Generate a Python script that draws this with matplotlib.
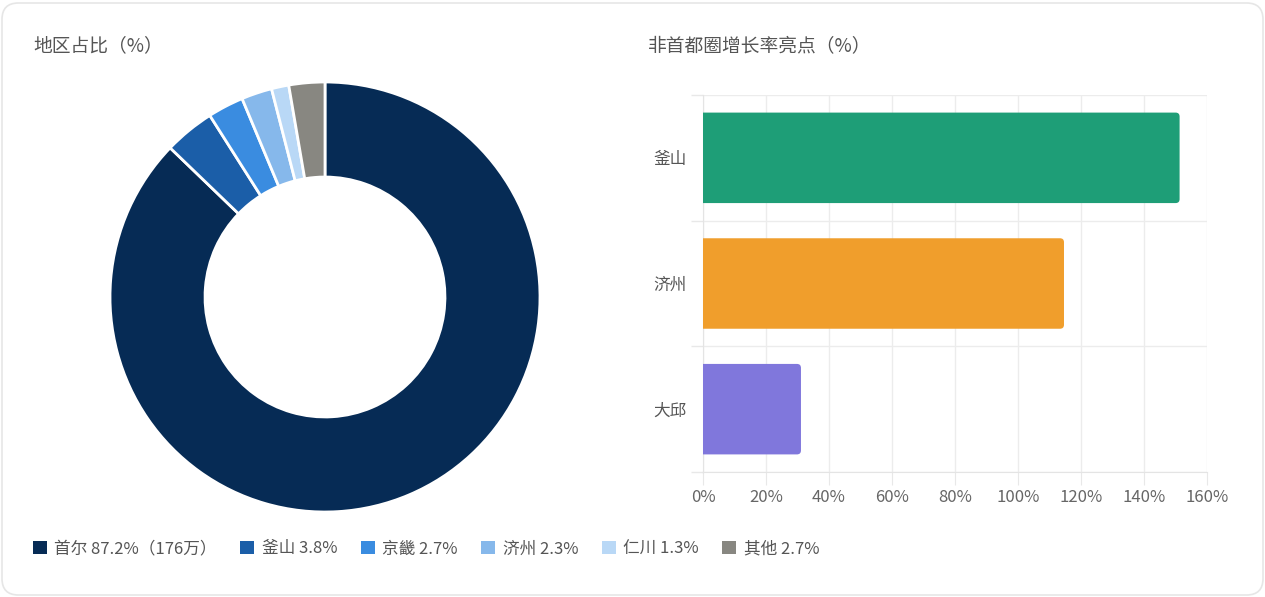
import matplotlib.pyplot as plt
from matplotlib.patches import FancyBboxPatch

plt.rcParams['font.family'] = ['Noto Sans CJK SC', 'DejaVu Sans']

# donut data
regions = ['首尔', '釜山', '京畿', '济州', '仁川', '其他']
shares = [87.2, 3.8, 2.7, 2.3, 1.3, 2.7]
legend_labels = ['首尔 87.2%（176万）', '釜山 3.8%', '京畿 2.7%', '济州 2.3%', '仁川 1.3%', '其他 2.7%']
donut_colors = ['#062b55', '#1b5ea8', '#3a8ce0', '#86b8eb', '#b9d8f6', '#888781']

# growth bar data
cities = ['釜山', '济州', '大邱']
growth = [151.3, 114.6, 31.1]
bar_colors = ['#1e9e77', '#f09e2c', '#8077dc']
xticks = [0, 20, 40, 60, 80, 100, 120, 140, 160]

W, H = 1265, 597
fig = plt.figure(figsize=(W / 100, H / 100), dpi=100)

# card background
card = FancyBboxPatch((2 / W, 2 / H), (W - 4) / W, (H - 5) / H,
                      boxstyle='round,pad=0,rounding_size=0.013',
                      mutation_aspect=W / H,
                      transform=fig.transFigure, facecolor='white',
                      edgecolor='#e6e6e6', linewidth=1.2, zorder=-10)
fig.patches.append(card)

# donut
ax1 = fig.add_axes([110 / W, 1 - 512 / H, 430 / W, 430 / H])
ax1.pie(shares, colors=donut_colors, startangle=90, counterclock=False,
        radius=1, wedgeprops=dict(width=0.442, edgecolor='white', linewidth=2))
ax1.set_xlim(-1, 1)
ax1.set_ylim(-1, 1)
ax1.set_aspect('equal')

fig.text(33 / W, 1 - 46 / H, '地区占比（%）', fontsize=13.5, color='#555555', va='center')
fig.text(648 / W, 1 - 46 / H, '非首都圈增长率亮点（%）', fontsize=13.5, color='#555555', va='center')

# legend
handles = [plt.Rectangle((0, 0), 1, 1, facecolor=c, edgecolor='none') for c in donut_colors]
leg = fig.legend(handles, legend_labels, loc='center left', bbox_to_anchor=(26 / W, 1 - 549 / H),
                 ncol=6, frameon=False, fontsize=12, handlelength=0.85, handleheight=0.85,
                 handletextpad=0.45, columnspacing=1.4, borderaxespad=0)
for t in leg.get_texts():
    t.set_color('#555555')

# bar chart
ax2 = fig.add_axes([703 / W, 1 - 472 / H, 504 / W, 377 / H])
ax2.set_xlim(0, 160)
ax2.set_ylim(2.5, -0.5)

px_x = 504 / 160
px_y = 377 / 3
r = 4 / px_x
bar_h = 0.72
for i, (v, c) in enumerate(zip(growth, bar_colors)):
    p = FancyBboxPatch((-5, i - bar_h / 2), v + 5, bar_h,
                       boxstyle='round,pad=0,rounding_size=%f' % r,
                       mutation_aspect=px_x / px_y,
                       facecolor=c, edgecolor='none', zorder=3)
    ax2.add_patch(p)

ax2.set_xticks(xticks)
ax2.set_xticklabels(['%d%%' % x for x in xticks])
ax2.set_yticks(range(len(cities)))
ax2.set_yticklabels(cities)
ax2.set_yticks([-0.5, 0.5, 1.5, 2.5], minor=True)
ax2.tick_params(axis='y', which='major', length=0, pad=12, labelsize=12, labelcolor='#555555')
ax2.tick_params(axis='y', which='minor', length=9, color='#e8e8e8', width=1)
ax2.tick_params(axis='x', length=9, color='#e8e8e8', labelsize=12, labelcolor='#666666', pad=3)
ax2.grid(axis='x', color='#ececec', linewidth=1)
ax2.grid(axis='y', which='minor', color='#ececec', linewidth=1)
ax2.set_axisbelow(True)
for s in ['top', 'right']:
    ax2.spines[s].set_visible(False)
for s in ['left', 'bottom']:
    ax2.spines[s].set_color('#e4e4e4')

fig.savefig('out.png', dpi=100)
